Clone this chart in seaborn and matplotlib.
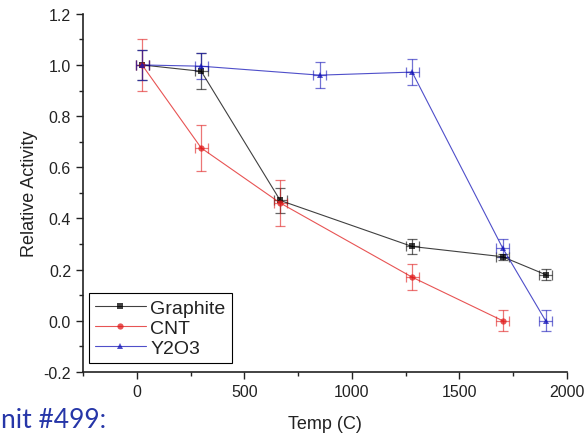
import numpy as np
import pandas as pd
import matplotlib
matplotlib.use("Agg")
import matplotlib.pyplot as plt
import seaborn as sns
from matplotlib.ticker import AutoMinorLocator

# --- datos ---
graphite_t = [25, 300, 667, 1280, 1700, 1900]
graphite_y = [1.0, 0.975, 0.47, 0.29, 0.25, 0.18]
graphite_err = [0.06, 0.07, 0.05, 0.03, 0.012, 0.022]

cnt_t = [25, 300, 667, 1280, 1700]
cnt_y = [1.0, 0.675, 0.46, 0.17, 0.0]
cnt_err = [0.10, 0.09, 0.09, 0.05, 0.04]

y2o3_t = [25, 300, 850, 1280, 1700, 1900]
y2o3_y = [1.0, 0.995, 0.96, 0.972, 0.285, 0.0]
y2o3_err = [0.06, 0.05, 0.05, 0.05, 0.035, 0.04]

x_err = 30

series = [
    ("Graphite", graphite_t, graphite_y, graphite_err, "black", "s"),
    ("CNT", cnt_t, cnt_y, cnt_err, "#e01b1b", "o"),
    ("Y2O3", y2o3_t, y2o3_y, y2o3_err, "#1414b8", "^"),
]

sns.set_theme(style="ticks")
plt.rcParams['font.family'] = ['Liberation Sans', 'DejaVu Sans']

fig = plt.figure(figsize=(5.84, 4.35), dpi=100)
ax = fig.add_axes([0.142, 0.143, 0.829, 0.823])

for name, t, y, err, color, marker in series:
    df = pd.DataFrame({"t": t, "y": y})
    ax.errorbar(t, y, yerr=err, xerr=x_err, fmt="none", ecolor=color,
                elinewidth=0.9, capsize=3.5, capthick=0.9, alpha=0.6, zorder=2)
    sns.lineplot(data=df, x="t", y="y", ax=ax, color=color, marker=marker,
                 markersize=4.5, markeredgewidth=0, linewidth=0.8, alpha=0.75,
                 label=name, sort=False, zorder=3)

ax.set_xlim(-250, 2000)
ax.set_ylim(-0.2, 1.2)
ax.set_xticks([0, 500, 1000, 1500, 2000])
ax.set_yticks(np.round(np.arange(-0.2, 1.21, 0.2), 1))
ax.set_yticklabels([f"{v:.1f}" for v in np.arange(-0.2, 1.21, 0.2)])
ax.xaxis.set_minor_locator(AutoMinorLocator(2))
ax.yaxis.set_minor_locator(AutoMinorLocator(2))
ax.tick_params(axis="both", which="major", direction="out", length=5, width=1,
               labelsize=11.5, color="#222222", labelcolor="#222222")
ax.tick_params(axis="both", which="minor", direction="out", length=3, width=1,
               color="#222222")
for s in ["left", "bottom"]:
    ax.spines[s].set_linewidth(1.2)
    ax.spines[s].set_color("#222222")
sns.despine(ax=ax)

ax.set_xlabel("Temp (C)", fontsize=13, labelpad=12, color="#222222")
ax.set_ylabel("Relative Activity", fontsize=13, labelpad=4, color="#222222")

leg = ax.legend(loc="lower left", bbox_to_anchor=(0.005, 0.015), fontsize=14,
                frameon=True, fancybox=False, edgecolor="black", framealpha=1,
                handlelength=2.6, handletextpad=0.25, borderpad=0.3,
                labelspacing=0.12, borderaxespad=0.2)
leg.get_frame().set_linewidth(0.8)
for text in leg.get_texts():
    text.set_color("#222222")

fig.text(0.002, 0.004, "nit #499:", color="#2636a8", fontsize=19,
         ha="left", va="bottom", family=["Lato", "DejaVu Sans"])

fig.savefig("out.png", dpi=100)
